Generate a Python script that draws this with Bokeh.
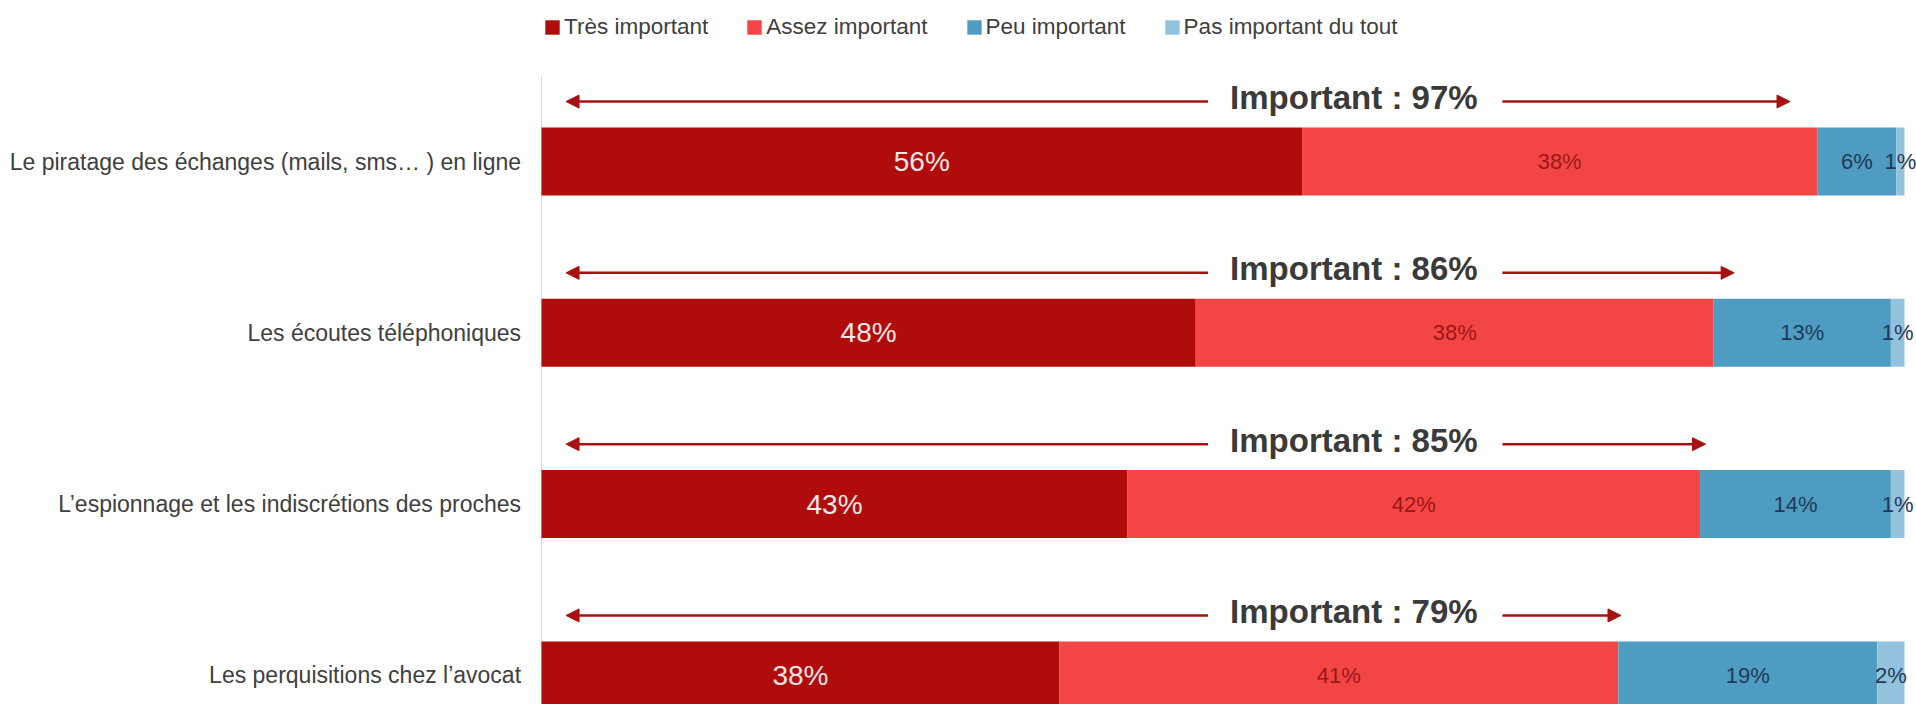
from bokeh.plotting import figure
from bokeh.models import ColumnDataSource, Range1d, Arrow, NormalHead, Legend, LegendItem
from bokeh.core.properties import value
from bokeh.embed import file_html
from bokeh.resources import INLINE

categories = [
    "Le piratage des échanges (mails, sms… ) en ligne",
    "Les écoutes téléphoniques",
    "L’espionnage et les indiscrétions des proches",
    "Les perquisitions chez l’avocat",
]
series_names = ["Très important", "Assez important", "Peu important", "Pas important du tout"]
tres = [55.8, 48, 43, 38]
assez = [37.8, 38, 42, 41]
peu = [5.8, 13, 14, 19]
pas = [0.6, 1, 1, 2]
important = [97, 86, 85, 79]
arrow_end = [91.6, 87.5, 85.4, 79.2]

colors = ["#B00C0C", "#F44545", "#4F9CC2", "#93C2DE"]
label_colors = ["#FCE6E6", "#9A1818", "#1E3A57", "#1E3A57"]
label_sizes = ["28px", "22px", "22px", "22px"]

FONT = "Liberation Sans"

W, H = 1916, 704
p = figure(width=W, height=H,
           x_range=Range1d(-541 / 13.63, (W - 541) / 13.63),
           y_range=Range1d((H - 161) / 171.3, -161 / 171.3),
           output_backend="svg", toolbar_location=None, min_border=0,
           x_axis_location=None, y_axis_location=None)
p.grid.visible = False
p.outline_line_color = None
p.background_fill_color = "white"

ys = list(range(len(categories)))
n = len(categories)
series = [tres, assez, peu, pas]

# thin vertical axis line at 0
p.segment(x0=[0], y0=[-0.50], x1=[0], y1=[3.3], line_color="#D9D9D9", line_width=1)

left = [0.0] * n
renderers = []
for k, vals in enumerate(series):
    right = [l + v for l, v in zip(left, vals)]
    src = ColumnDataSource(dict(
        y=ys, left=left, right=right,
        mid=[(l + r) / 2 for l, r in zip(left, right)],
        lab=[f"{round(v)}%" for v in vals],
    ))
    r = p.hbar(y="y", left="left", right="right", height=0.397,
               fill_color=colors[k], line_color=None, source=src)
    renderers.append(r)
    p.text(x="mid", y="y", text="lab", source=src,
           text_font=value(FONT), text_font_size=label_sizes[k],
           text_color=label_colors[k], text_align="center", text_baseline="middle")
    left = right

# category labels
p.text(x=[-1.5] * n, y=ys, text=categories,
       text_font=value(FONT), text_font_size="23px", text_color="#404040",
       text_align="right", text_baseline="middle")

# "Important" annotations with arrows
ann_y = [y - 0.35 for y in ys]
p.text(x=[59.6] * n, y=ann_y, text=[f"Important : {v}%" for v in important],
       text_font=value(FONT), text_font_size="33px", text_font_style="bold",
       text_color="#3A3A3A", text_align="center", text_baseline="middle", y_offset=-4)

arr_src_left = ColumnDataSource(dict(xs=[48.9] * n, xe=[1.8] * n, y=ann_y))
arr_src_right = ColumnDataSource(dict(xs=[70.5] * n, xe=arrow_end, y=ann_y))
for s in (arr_src_left, arr_src_right):
    p.add_layout(Arrow(end=NormalHead(size=13, fill_color="#A51212", line_color="#A51212"),
                       x_start="xs", y_start="y", x_end="xe", y_end="y",
                       line_color="#A51212", line_width=2.5, source=s))

legend = Legend(items=[LegendItem(label=series_names[k], renderers=[renderers[k]]) for k in range(4)],
                orientation="horizontal", location=(543, 664),
                glyph_width=18, glyph_height=18, label_standoff=3, spacing=37,
                padding=0, margin=0, border_line_color=None, background_fill_alpha=0,
                label_text_font=FONT, label_text_font_size="22.5px", label_text_color="#404040")
p.add_layout(legend, "center")

open("out.html", "w").write(file_html(p, INLINE))
